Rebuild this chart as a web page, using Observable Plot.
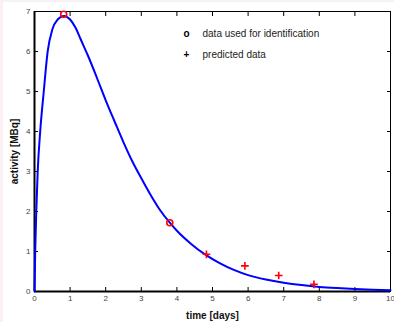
<!DOCTYPE html>
<html>
<head>
<meta charset="utf-8">
<script src="https://cdn.jsdelivr.net/npm/d3@7"></script>
<script src="https://cdn.jsdelivr.net/npm/@observablehq/plot@0.6"></script>
<style>
  html, body { margin: 0; padding: 0; background: #ffffff; }
  body { width: 394px; height: 322px; overflow: hidden; position: relative; }
  #strip { position: absolute; left: 0; top: 0; width: 3px; height: 322px; background: #fbf1f4; }
  #topstrip { position: absolute; left: 0; top: 0; width: 394px; height: 2px; background: #f6f2f5; }
  #chart { position: absolute; left: 0; top: 0; }
  #chart svg text { font-family: "Liberation Sans", Arial, Helvetica, sans-serif; }
  #chart svg [aria-label="x-axis label"] text, #chart svg [aria-label="y-axis label"] text { font-weight: bold; font-size: 10px; fill: #111; }
</style>
</head>
<body>
<div id="strip"></div>
<div id="topstrip"></div>
<div id="chart"></div>
<script>
// model curve (time in days, activity in MBq)
const curveT = [0, 0.02, 0.05, 0.09, 0.16, 0.26, 0.37, 0.5, 0.65, 0.83, 1.0, 1.15, 1.3, 1.5, 1.75, 2.0, 2.25, 2.5, 2.75, 3.0, 3.25, 3.5, 3.8, 4.0, 4.4, 4.8, 5.2, 5.6, 6.0, 6.5, 7.0, 7.5, 8.0, 8.5, 9.0, 9.5, 10];
const curveV = [0, 1.0, 2.0, 3.0, 4.0, 5.0, 6.0, 6.55, 6.8, 6.89, 6.8, 6.6, 6.3, 5.9, 5.35, 4.78, 4.25, 3.73, 3.25, 2.83, 2.43, 2.07, 1.72, 1.52, 1.19, 0.92, 0.71, 0.54, 0.41, 0.3, 0.22, 0.16, 0.115, 0.085, 0.062, 0.045, 0.033];

// data used for identification
const idT = [0.82, 3.8];
const idV = [6.93, 1.72];

// predicted data
const predT = [4.83, 5.91, 6.86, 7.85];
const predV = [0.93, 0.64, 0.40, 0.18];

const xTicks = [0, 1, 2, 3, 4, 5, 6, 7, 8, 9, 10];
const yTicks = [0, 1, 2, 3, 4, 5, 6, 7];

const legendLabels = ["data used for identification", "predicted data"];
const legendSymbols = ["o", "+"];
const xLabel = "time [days]";
const yLabel = "activity [MBq]";

const curve = curveT.map((t, i) => ({t, v: curveV[i]}));
const ident = idT.map((t, i) => ({t, v: idV[i]}));
const pred = predT.map((t, i) => ({t, v: predV[i]}));

function legendRow(i) {
  return [
    Plot.text([legendSymbols[i]], {frameAnchor: "top-left", text: d => d, dx: 149, dy: 18 + i * 21, fontWeight: "bold", fontSize: 10, fill: "#000"}),
    Plot.text([legendLabels[i]], {frameAnchor: "top-left", text: d => d, textAnchor: "start", dx: 168, dy: 18 + i * 21, fontSize: 10, fill: "#222"})
  ];
}

const plot = Plot.plot({
  width: 394,
  height: 322,
  marginLeft: 34,
  marginRight: 4,
  marginTop: 11,
  marginBottom: 31,
  style: {background: "transparent", fontSize: "8px", color: "#333"},
  x: {domain: [0, 10], ticks: xTicks},
  y: {domain: [0, 7], ticks: yTicks},
  marks: [
    Plot.frame({stroke: "#000", strokeWidth: 1}),
    Plot.axisX(xTicks, {anchor: "bottom", tickSize: 0, tickPadding: 4, label: xLabel, labelAnchor: "center", labelArrow: "none", labelOffset: 27, fill: "#444"}),
    Plot.axisX(xTicks, {anchor: "bottom", tickSize: -4, fill: "none", label: null, stroke: "#000"}),
    Plot.axisX(xTicks, {anchor: "top", tickSize: -4, fill: "none", label: null, stroke: "#000"}),
    Plot.axisY(yTicks, {anchor: "left", tickSize: 0, tickPadding: 4, label: yLabel, labelAnchor: "center", labelArrow: "none", labelOffset: 24, fill: "#444"}),
    Plot.axisY(yTicks, {anchor: "left", tickSize: -4, fill: "none", label: null, stroke: "#000"}),
    Plot.axisY(yTicks, {anchor: "right", tickSize: -4, fill: "none", label: null, stroke: "#000"}),
    Plot.ruleX([0], {stroke: "#000", strokeWidth: 2}),
    Plot.ruleY([0], {stroke: "#000", strokeWidth: 2}),
    Plot.line(curve, {x: "t", y: "v", stroke: "#0000ff", strokeWidth: 2, curve: "monotone-x"}),
    Plot.dot(ident, {x: "t", y: "v", r: 3, stroke: "#ff0000", strokeWidth: 1.6, fill: "none"}),
    Plot.dot(pred, {x: "t", y: "v", symbol: "plus", r: 2.6, stroke: "#ff0000", strokeWidth: 1.6}),
    ...legendRow(0),
    ...legendRow(1)
  ]
});
document.getElementById("chart").appendChild(plot);
</script>
</body>
</html>
